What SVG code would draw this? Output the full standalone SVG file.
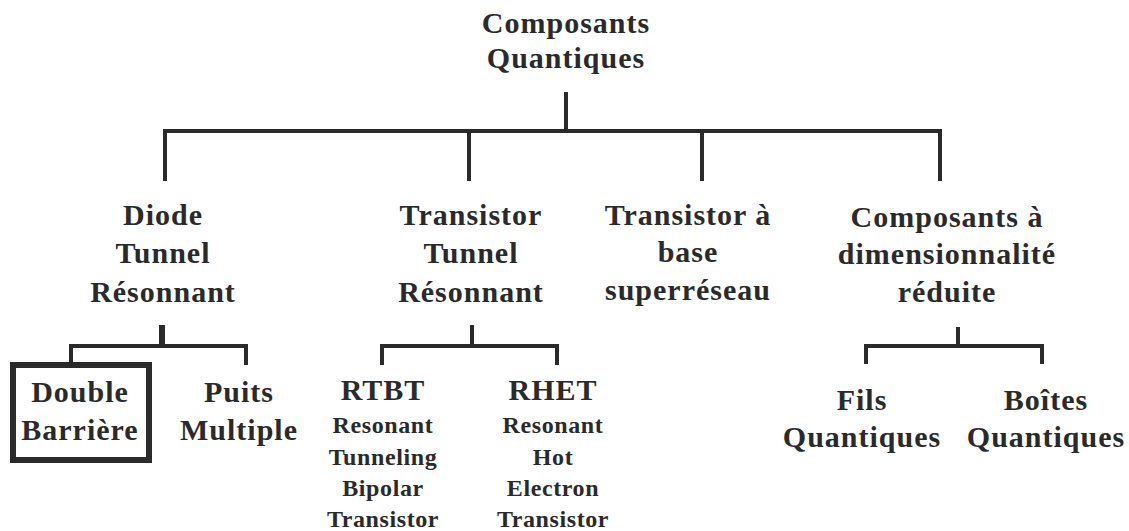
<svg xmlns="http://www.w3.org/2000/svg" width="1129" height="531" viewBox="0 0 1129 531">
<style>
text{font-family:"Liberation Serif","Times New Roman",serif;font-weight:bold;fill:#2a2a2a;text-anchor:middle}
.b{font-size:30px;letter-spacing:1px}
.s{font-size:24px;letter-spacing:0.6px}
.c{stroke:#2a2a2a;stroke-width:4;fill:none}
</style>
<rect width="1129" height="531" fill="#fff"/>
<g id="connectors" class="c">
<line x1="566" y1="92" x2="566" y2="131"/>
<line x1="163" y1="131" x2="942" y2="131"/>
<line x1="165" y1="129" x2="165" y2="181"/>
<line x1="469" y1="129" x2="469" y2="181"/>
<line x1="702" y1="129" x2="702" y2="181"/>
<line x1="940" y1="129" x2="940" y2="181"/>
<line x1="162" y1="325" x2="162" y2="346" stroke-width="6"/>
<line x1="69" y1="346" x2="248" y2="346"/>
<line x1="71" y1="344" x2="71" y2="364"/>
<line x1="246" y1="344" x2="246" y2="365"/>
<line x1="472" y1="325" x2="472" y2="346"/>
<line x1="380" y1="346" x2="559" y2="346"/>
<line x1="382" y1="344" x2="382" y2="365"/>
<line x1="557" y1="344" x2="557" y2="365"/>
<line x1="958" y1="327" x2="958" y2="346"/>
<line x1="864" y1="346" x2="1044" y2="346"/>
<line x1="866" y1="344" x2="866" y2="364"/>
<line x1="1042" y1="344" x2="1042" y2="364"/>
</g>
<g id="root"><text class="b" x="566" y="33">Composants</text><text class="b" x="566" y="68">Quantiques</text></g>
<g id="diode"><text class="b" x="163" y="225">Diode</text><text class="b" x="163" y="263">Tunnel</text><text class="b" x="163" y="302">Résonnant</text></g>
<g id="transistor-tunnel"><text class="b" x="471" y="225">Transistor</text><text class="b" x="471" y="263">Tunnel</text><text class="b" x="471" y="302">Résonnant</text></g>
<g id="transistor-base"><text class="b" x="688" y="225">Transistor à</text><text class="b" x="688" y="262">base</text><text class="b" x="688" y="300">superréseau</text></g>
<g id="composants-dim"><text class="b" x="947" y="227">Composants à</text><text class="b" x="947" y="264">dimensionnalité</text><text class="b" x="947" y="302">réduite</text></g>
<g id="double-barriere"><rect x="13" y="365" width="136" height="95" fill="none" stroke="#2a2a2a" stroke-width="6"/><text class="b" x="80" y="402">Double</text><text class="b" x="80" y="440">Barrière</text></g>
<g id="puits"><text class="b" x="239" y="402">Puits</text><text class="b" x="239" y="440">Multiple</text></g>
<g id="rtbt"><text class="b" x="383" y="400">RTBT</text><text class="s" x="383" y="433">Resonant</text><text class="s" x="383" y="465">Tunneling</text><text class="s" x="383" y="496">Bipolar</text><text class="s" x="383" y="527">Transistor</text></g>
<g id="rhet"><text class="b" x="553" y="400">RHET</text><text class="s" x="553" y="433">Resonant</text><text class="s" x="553" y="465">Hot</text><text class="s" x="553" y="496">Electron</text><text class="s" x="553" y="527">Transistor</text></g>
<g id="fils"><text class="b" x="862" y="410">Fils</text><text class="b" x="862" y="447">Quantiques</text></g>
<g id="boites"><text class="b" x="1046" y="410">Boîtes</text><text class="b" x="1046" y="447">Quantiques</text></g>
</svg>
